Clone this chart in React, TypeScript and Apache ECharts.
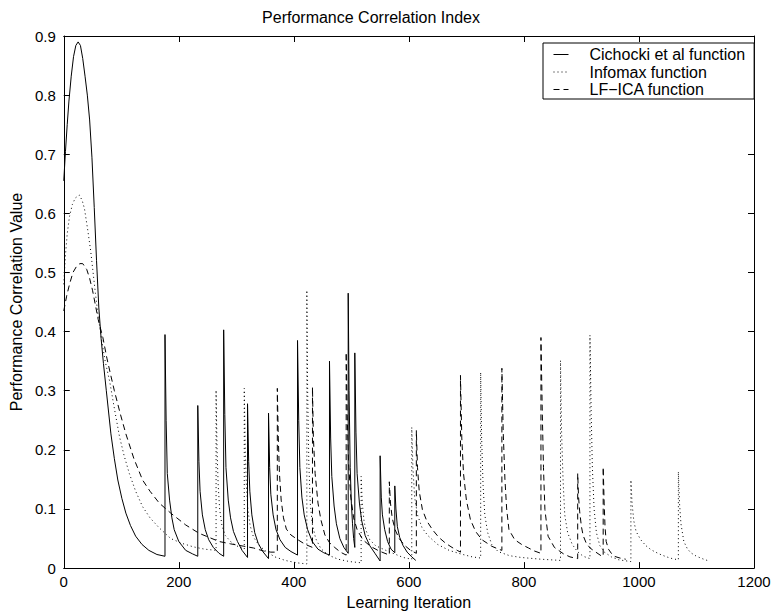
import React, { useEffect, useRef } from "react";
import * as echarts from "echarts";

const chartTitle = "Performance Correlation Index";
const xAxisName = "Learning Iteration";
const yAxisName = "Performance Correlation Value";
const seriesNames = ["Cichocki et al function", "Infomax function", "LF\u2212ICA function"];

const cichockiPoints: [number, number][] = [
  [0, 0.655], [3, 0.705], [6, 0.75], [9, 0.79], [13, 0.832], [17, 0.865], [21, 0.884], [25, 0.89],
  [29, 0.884], [33, 0.862], [37, 0.832], [41, 0.8], [45, 0.758], [49, 0.695], [53, 0.61], [57, 0.52],
  [61, 0.44], [65, 0.388], [69, 0.346], [74, 0.3], [82, 0.227], [88, 0.185], [94, 0.149], [101, 0.118],
  [108, 0.093], [116, 0.072], [125, 0.054], [136, 0.04], [148, 0.03], [162, 0.023], [176, 0.02],
  [176, 0.395], [178, 0.25], [180, 0.16], [184, 0.115], [188, 0.085], [192, 0.065], [200, 0.045], [212, 0.03], [224, 0.024], [233, 0.02],
  [233, 0.275], [235, 0.18], [237, 0.13], [241, 0.09], [246, 0.065], [252, 0.048], [260, 0.035], [270, 0.025], [278, 0.02],
  [278, 0.403], [280, 0.26], [282, 0.17], [286, 0.115], [290, 0.085], [295, 0.062], [302, 0.045], [310, 0.03], [319.5, 0.018],
  [319.5, 0.278], [321.5, 0.18], [323.5, 0.13], [327, 0.09], [332, 0.06], [338, 0.042], [346, 0.028], [356, 0.016],
  [356, 0.262], [358, 0.17], [360, 0.125], [364, 0.09], [369, 0.065], [376, 0.048], [385, 0.035], [395, 0.028], [406.4, 0.022],
  [406.4, 0.385], [408.5, 0.25], [410.5, 0.17], [414, 0.12], [418, 0.09], [424, 0.065], [432, 0.045], [442, 0.032], [452, 0.026], [462, 0.022],
  [462, 0.35], [464, 0.22], [466, 0.155], [470, 0.105], [474, 0.075], [480, 0.05], [487, 0.035], [494.5, 0.025],
  [494.5, 0.465], [496, 0.3], [498, 0.17], [500, 0.11], [502, 0.075], [504, 0.05], [506, 0.035],
  [506, 0.364], [508, 0.23], [510, 0.16], [514, 0.11], [518, 0.08], [524, 0.055], [532, 0.038], [541, 0.025], [550, 0.012],
  [550, 0.19], [552, 0.12], [554, 0.09], [558, 0.065], [563, 0.045], [569, 0.032], [575.5, 0.026],
  [575.5, 0.139], [577.5, 0.1], [580, 0.07], [584, 0.052], [590, 0.038], [597, 0.027], [605, 0.019], [612, 0.013],
];

const infomaxPoints: [number, number][] = [
  [0, 0.48], [3, 0.53], [6, 0.565], [10, 0.595], [15, 0.615], [20, 0.626], [27, 0.631], [32, 0.622],
  [36, 0.608], [42, 0.57], [47, 0.535], [51, 0.5], [55, 0.465], [60, 0.425], [66, 0.385], [72, 0.35],
  [80, 0.315], [88, 0.27], [97, 0.222], [105, 0.19], [114, 0.16], [125, 0.13], [137, 0.104], [150, 0.085],
  [166, 0.068], [186, 0.05], [205, 0.042], [225, 0.036], [245, 0.032], [264.8, 0.03],
  [264.8, 0.301], [266.5, 0.2], [268.5, 0.14], [271, 0.1], [275, 0.072], [281, 0.055], [290, 0.045], [300, 0.038], [313.8, 0.032],
  [313.8, 0.304], [315.5, 0.2], [317.5, 0.14], [320, 0.1], [324, 0.072], [330, 0.052], [340, 0.038], [352, 0.028], [367, 0.019], [385, 0.013], [405, 0.009], [422.6, 0.007],
  [422.6, 0.47], [424, 0.3], [426, 0.18], [428.5, 0.11], [432, 0.075], [438, 0.05], [447, 0.033], [460, 0.022], [477, 0.015], [497, 0.011], [517, 0.009],
  [517, 0.155], [519, 0.11], [522, 0.08], [525, 0.065], [532, 0.048], [542, 0.038], [560, 0.03], [575, 0.024], [590, 0.018], [605, 0.015],
  [605, 0.238], [607, 0.17], [610, 0.12], [615, 0.09], [623, 0.068], [633, 0.055], [650, 0.04], [670, 0.03], [690, 0.024], [710, 0.019], [724.8, 0.017],
  [724.8, 0.331], [726.5, 0.22], [729, 0.14], [732, 0.09], [737, 0.06], [744, 0.04], [755, 0.028], [775, 0.021], [795, 0.018], [830, 0.015], [863.6, 0.013],
  [863.6, 0.351], [865.5, 0.23], [868, 0.15], [871, 0.09], [876, 0.06], [884, 0.04], [893, 0.028], [903, 0.02], [914.8, 0.016],
  [914.8, 0.394], [917, 0.26], [919, 0.17], [922, 0.1], [926, 0.06], [932, 0.038], [940, 0.027], [952, 0.019], [965, 0.014], [986, 0.011],
  [986, 0.149], [988, 0.11], [991, 0.08], [995, 0.062], [1003, 0.048], [1012, 0.038], [1021, 0.031], [1035, 0.024], [1048, 0.019], [1058, 0.016], [1068.5, 0.014],
  [1068.5, 0.163], [1070.5, 0.11], [1073, 0.075], [1078, 0.045], [1084, 0.033], [1090, 0.026], [1100, 0.02], [1110, 0.016], [1121.5, 0.012],
];

const lficaPoints: [number, number][] = [
  [0, 0.435], [5, 0.46], [10, 0.48], [16, 0.5], [22, 0.51], [28, 0.515], [33, 0.515], [40, 0.505],
  [45, 0.49], [50, 0.47], [55, 0.445], [60, 0.42], [68, 0.39], [75, 0.355], [82, 0.325], [88, 0.3],
  [98, 0.262], [108, 0.227], [122, 0.185], [137, 0.149], [150, 0.13], [166, 0.11], [186, 0.093], [212, 0.073],
  [235, 0.059], [255, 0.051], [270, 0.045], [290, 0.041], [313, 0.037], [330, 0.034], [347, 0.029], [360, 0.027], [371.3, 0.027],
  [371.3, 0.304], [373, 0.22], [375, 0.16], [378, 0.115], [382, 0.085], [387, 0.066], [395, 0.056], [407, 0.048], [420, 0.04], [432.4, 0.035],
  [432.4, 0.306], [434, 0.22], [437, 0.16], [442, 0.11], [447, 0.082], [454, 0.056], [462, 0.043], [471, 0.035], [481, 0.027], [491, 0.022],
  [491, 0.365], [493, 0.25], [495, 0.18], [499, 0.12], [504, 0.085], [510, 0.065], [520, 0.048], [533, 0.037], [548, 0.029], [566, 0.022],
  [566, 0.146], [568, 0.11], [571, 0.085], [576, 0.065], [583, 0.05], [593, 0.038], [603, 0.03], [613, 0.025],
  [613, 0.233], [615, 0.17], [618, 0.13], [623.5, 0.099], [631, 0.08], [641, 0.065], [652, 0.052], [664, 0.042], [675, 0.035], [684, 0.03], [689.7, 0.027],
  [689.7, 0.326], [692, 0.22], [695, 0.16], [700, 0.115], [707, 0.082], [716, 0.062], [727, 0.048], [744, 0.037], [756, 0.032], [761.7, 0.03],
  [761.7, 0.338], [764, 0.23], [767, 0.15], [770, 0.1], [774, 0.065], [784, 0.048], [796, 0.04], [808, 0.034], [818, 0.029], [829.6, 0.025],
  [829.6, 0.39], [832, 0.26], [834, 0.17], [836.5, 0.099], [842, 0.054], [853, 0.035], [869, 0.024], [880, 0.019], [893.5, 0.016],
  [893.5, 0.16], [895, 0.12], [897, 0.095], [900, 0.07], [903, 0.055], [908, 0.043], [915, 0.034], [922, 0.029], [934, 0.021], [937.8, 0.02],
  [937.8, 0.171], [939.5, 0.11], [941, 0.07], [943, 0.045], [947, 0.032], [952, 0.025], [957, 0.02], [967, 0.017], [977, 0.015],
];

const FONT = "'Liberation Sans', Arial, Helvetica, sans-serif";

export default function App() {
  const ref = useRef<HTMLDivElement>(null);
  useEffect(() => {
    if (!ref.current) return;
    const chart = echarts.init(ref.current, null, { renderer: "svg" });
    const axisLine = { show: true, onZero: false, lineStyle: { color: "#000", width: 1 } };
    const tick = { show: true, inside: true, length: 6, lineStyle: { color: "#000", width: 1 } };
    const label = { color: "#000", fontSize: 15, fontFamily: FONT };
    chart.setOption({
      animation: false,
      backgroundColor: "#fff",
      textStyle: { fontFamily: FONT },
      title: {
        text: chartTitle,
        left: 366,
        textAlign: "center",
        top: 4,
        textStyle: { fontSize: 16, fontWeight: "normal", color: "#000", fontFamily: FONT },
      },
      grid: { left: 59, right: 20, top: 36, bottom: 43, containLabel: false },
      legend: {
        data: seriesNames,
        orient: "vertical",
        left: 543,
        top: 43,
        padding: [3, 9, 1, 10],
        itemWidth: 15,
        itemHeight: 10,
        itemGap: 0.5,
        backgroundColor: "#fff",
        borderColor: "#000",
        borderWidth: 1,
        borderRadius: 0,
        lineStyle: { width: 1 },
        itemStyle: { color: "transparent", borderColor: "transparent", borderWidth: 0, opacity: 0 },
        textStyle: { fontSize: 16, color: "#000", fontFamily: FONT, padding: [0, 0, 0, 16], lineHeight: 17 },
      },
      xAxis: [
        {
          type: "value", min: 0, max: 1200, interval: 200, position: "bottom",
          axisLine, axisTick: tick, splitLine: { show: false },
          axisLabel: { ...label, margin: 6, formatter: (v: number) => String(v) },
          name: xAxisName, nameLocation: "middle", nameGap: 24,
          nameTextStyle: { fontSize: 16, color: "#000", fontFamily: FONT },
        },
        {
          type: "value", min: 0, max: 1200, interval: 200, position: "top",
          axisLine, axisTick: tick, splitLine: { show: false }, axisLabel: { show: false },
        },
      ],
      yAxis: [
        {
          type: "value", min: 0, max: 0.9, interval: 0.1, position: "left",
          axisLine, axisTick: tick, splitLine: { show: false },
          axisLabel: { ...label, margin: 8 },
          name: yAxisName, nameLocation: "middle", nameGap: 32,
          nameTextStyle: { fontSize: 16, color: "#000", fontFamily: FONT },
        },
        {
          type: "value", min: 0, max: 0.9, interval: 0.1, position: "right",
          axisLine, axisTick: tick, splitLine: { show: false }, axisLabel: { show: false },
        },
      ],
      series: [
        {
          name: seriesNames[0], type: "line", data: cichockiPoints, symbol: "none",
          lineStyle: { color: "#000", width: 1, type: "solid" }, itemStyle: { color: "#000" },
        },
        {
          name: seriesNames[1], type: "line", data: infomaxPoints, symbol: "none",
          lineStyle: { color: "#000", width: 1, type: [1, 3] }, itemStyle: { color: "#000" },
        },
        {
          name: seriesNames[2], type: "line", data: lficaPoints, symbol: "none",
          lineStyle: { color: "#000", width: 1, type: [6, 4] }, itemStyle: { color: "#000" },
        },
      ],
    });
    return () => chart.dispose();
  }, []);
  return <div ref={ref} style={{ position: "absolute", left: 0, top: 0, width: 774, height: 615 }} />;
}
